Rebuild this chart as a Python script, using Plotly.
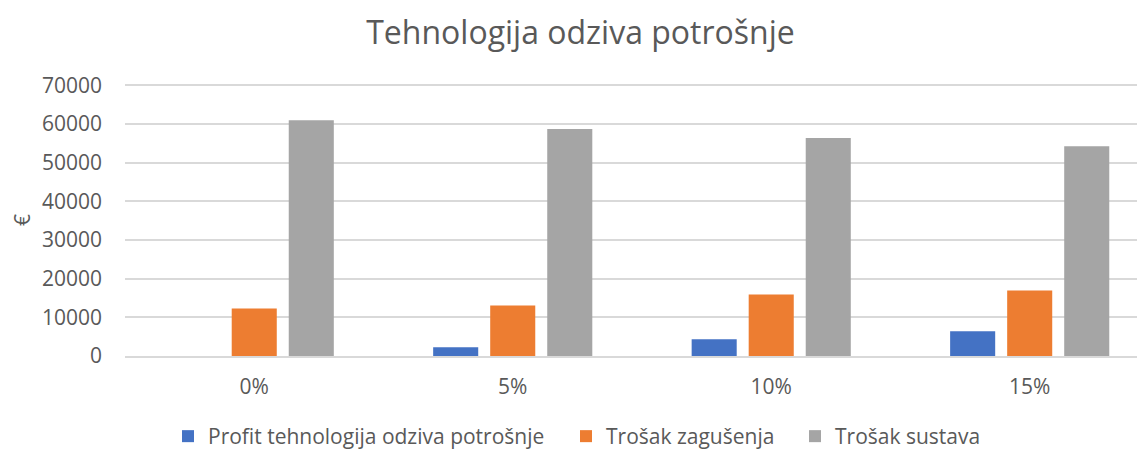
import plotly.graph_objects as go

categories = ["0%", "5%", "10%", "15%"]
profit = [0, 2250, 4300, 6400]
trosak_zagusenja = [12300, 13050, 15900, 16950]
trosak_sustava = [60900, 58650, 56350, 54200]

FONT = "Open Sans, sans-serif"
TEXT = "#595959"
GRID = "#d9d9d9"

fig = go.Figure()
fig.add_trace(go.Bar(x=categories, y=profit, name="Profit tehnologija odziva potrošnje",
                     marker_color="#4472C4", marker_line_width=0, legend="legend"))
fig.add_trace(go.Bar(x=categories, y=trosak_zagusenja, name="Trošak zagušenja",
                     marker_color="#ED7D31", marker_line_width=0, legend="legend2"))
fig.add_trace(go.Bar(x=categories, y=trosak_sustava, name="Trošak sustava",
                     marker_color="#A5A5A5", marker_line_width=0, legend="legend3"))


def bottom_legend(left_px):
    # one legend per series so each entry can sit where the original has it
    return dict(
        orientation="h",
        xref="container",
        yref="container",
        x=left_px / 1145,
        xanchor="left",
        y=0.0,
        yanchor="bottom",
        font=dict(family=FONT, size=21, color=TEXT),
        bgcolor="rgba(0,0,0,0)",
    )


fig.update_layout(
    width=1145,
    height=449,
    showlegend=True,
    barmode="group",
    bargap=0.338,
    bargroupgap=0.21,
    title=dict(text="Tehnologija odziva potrošnje", x=0.5, xanchor="center",
               y=0.944, yanchor="middle", font=dict(family=FONT, size=32, color=TEXT)),
    margin=dict(t=76, b=101, l=117, r=0, autoexpand=False),
    plot_bgcolor="white",
    paper_bgcolor="white",
    font=dict(family=FONT, size=21, color=TEXT),
    xaxis=dict(
        type="category",
        range=[-0.5, 3.477],
        showline=True,
        linecolor=GRID,
        linewidth=1.5,
        showgrid=False,
        ticks="",
        ticklabelstandoff=11,
        tickfont=dict(size=21, color=TEXT),
    ),
    yaxis=dict(
        range=[0, 70300],
        tickvals=[0, 10000, 20000, 30000, 40000, 50000, 60000, 70000],
        showgrid=True,
        gridcolor=GRID,
        gridwidth=1.5,
        zeroline=False,
        ticks="",
        ticklabelstandoff=22,
        tickformat="d",
        tickfont=dict(size=21, color=TEXT),
        title=dict(text="€", font=dict(size=21, color=TEXT), standoff=17),
    ),
    legend=bottom_legend(160),
    legend2=bottom_legend(558),
    legend3=bottom_legend(787),
)

fig.write_html("out.html")
